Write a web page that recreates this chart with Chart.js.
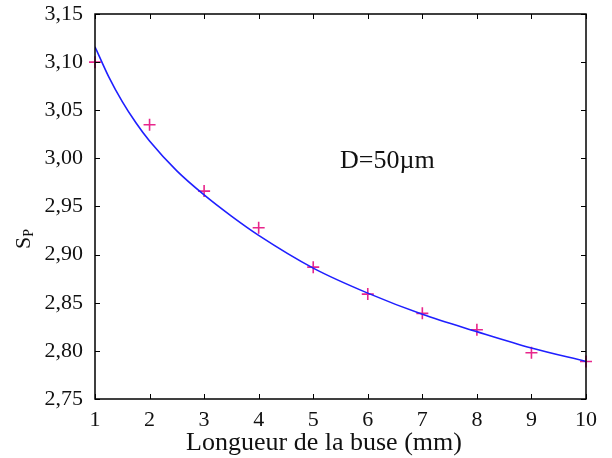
<!DOCTYPE html>
<html>
<head>
<meta charset="utf-8">
<script src="https://cdn.jsdelivr.net/npm/chart.js@4/dist/chart.umd.min.js"></script>
<style>
  html, body { margin: 0; padding: 0; background: #fff; }
  #wrap { width: 612px; height: 458px; }
</style>
</head>
<body>
<div id="wrap"><canvas id="sp-chart"></canvas></div>
<script>
;(function(){
  // measured points (crosses)
  const lengths = [1, 2, 3, 4, 5, 6, 7, 8, 9, 10]
  const spMeasured = [3.100, 3.035, 2.966, 2.928, 2.887, 2.859, 2.839, 2.822, 2.798, 2.789]

  // fitted curve
  const fitX = [1, 1.25, 1.5, 1.75, 2, 2.5, 3, 3.5, 4, 5, 6, 7, 8, 9, 10]
  const fitY = [3.116, 3.085, 3.059, 3.037, 3.018, 2.987, 2.962, 2.940, 2.920, 2.886, 2.860, 2.838, 2.820, 2.803, 2.789]

  const xTicks = [1, 2, 3, 4, 5, 6, 7, 8, 9, 10]
  const yTicks = [2.75, 2.80, 2.85, 2.90, 2.95, 3.00, 3.05, 3.10, 3.15]

  const serif = '"Liberation Serif", "DejaVu Serif", serif'

  // frame with inward ticks on all four sides + texts
  const framePlugin = {
    id: 'frame',
    afterDraw(chart) {
      const { ctx, chartArea: a, scales } = chart
      const len = 5
      ctx.save()
      ctx.strokeStyle = '#000'
      ctx.lineWidth = 1.5
      ctx.strokeRect(a.left, a.top, a.right - a.left, a.bottom - a.top)
      ctx.lineWidth = 1
      ctx.beginPath()
      xTicks.forEach(v => {
        const px = Math.round(scales.x.getPixelForValue(v)) + 0.5
        ctx.moveTo(px, a.bottom); ctx.lineTo(px, a.bottom - len)
        ctx.moveTo(px, a.top); ctx.lineTo(px, a.top + len)
      })
      yTicks.forEach(v => {
        const py = Math.round(scales.y.getPixelForValue(v)) + 0.5
        ctx.moveTo(a.left, py); ctx.lineTo(a.left + len, py)
        ctx.moveTo(a.right, py); ctx.lineTo(a.right - len, py)
      })
      ctx.stroke()

      ctx.fillStyle = '#111'
      ctx.textBaseline = 'alphabetic'

      // x title
      ctx.textAlign = 'center'
      ctx.font = '26px ' + serif
      ctx.fillText('Longueur de la buse (mm)', 324, 450)

      // annotation
      ctx.textAlign = 'left'
      ctx.font = '26px ' + serif
      ctx.fillText('D=50µm', 340, 168)

      // y title S with subscript P
      ctx.translate(30, 249)
      ctx.rotate(-Math.PI / 2)
      ctx.font = '22px ' + serif
      const w = ctx.measureText('S').width
      ctx.fillText('S', 0, 0)
      ctx.font = '14px ' + serif
      ctx.fillText('P', w, 3)
      ctx.restore()
    }
  }

  const cfg = {
    type: 'scatter',
    data: {
      datasets: [
        {
          label: 'fit',
          data: fitX.map((x, i) => ({ x: x, y: fitY[i] })),
          showLine: true,
          borderColor: '#1f1fff',
          borderWidth: 1.6,
          pointRadius: 0,
          cubicInterpolationMode: 'monotone',
        },
        {
          label: 'mesures',
          data: lengths.map((x, i) => ({ x: x, y: spMeasured[i] })),
          pointStyle: 'cross',
          pointRadius: 6,
          borderColor: '#e8268c',
          borderWidth: 1.6,
          clip: false,
        },
      ],
    },
    options: {
      responsive: true,
      maintainAspectRatio: false,
      animation: false,
      layout: { padding: { left: 0, top: 14, right: 26, bottom: 0 } },
      plugins: { legend: { display: false }, tooltip: { enabled: false } },
      scales: {
        x: {
          type: 'linear',
          min: 1, max: 10,
          afterBuildTicks: s => { s.ticks = xTicks.map(v => ({ value: v })) },
          afterFit: s => { s.height = 59; s.paddingLeft = 0; s.paddingRight = 0 },
          grid: { display: false, drawTicks: false },
          border: { display: false },
          ticks: { padding: 8, color: '#111', font: { family: serif, size: 22 }, maxRotation: 0 },
        },
        y: {
          min: 2.75, max: 3.15,
          afterBuildTicks: s => { s.ticks = yTicks.map(v => ({ value: v })) },
          afterFit: s => { s.width = 95; s.paddingTop = 0; s.paddingBottom = 0 },
          grid: { display: false, drawTicks: false },
          border: { display: false },
          ticks: {
            padding: 12,
            color: '#111',
            font: { family: serif, size: 22 },
            callback: v => v.toFixed(2).replace('.', ','),
          },
        },
      },
    },
    plugins: [framePlugin],
  }

  const ctx = document.getElementById('sp-chart')
  let chart = new Chart(ctx, cfg)
})()
</script>
</body>
</html>
